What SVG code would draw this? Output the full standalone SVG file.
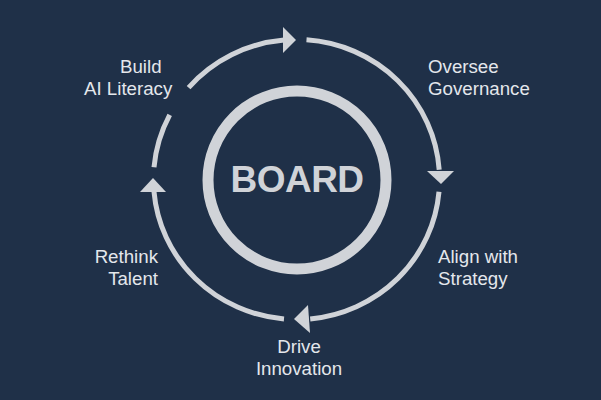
<svg xmlns="http://www.w3.org/2000/svg" width="601" height="400" viewBox="0 0 601 400">
<style>
.arc{fill:none;stroke:#d0d3d8;stroke-width:5;stroke-linecap:butt}
.head{fill:#d0d3d8}
.lbl{font-family:"Liberation Sans",Arial,sans-serif;font-size:18.7px;fill:#e4e7ec}
.title{font-family:"Liberation Sans",Arial,sans-serif;font-size:37px;font-weight:bold;fill:#d0d3d8;letter-spacing:-0.5px}
</style>
<rect width="601" height="400" fill="#1f3048"/>
<g id="board">
<circle cx="297" cy="180" r="89" fill="none" stroke="#d0d3d8" stroke-width="11"/>
<text class="title" x="297" y="192" text-anchor="middle">BOARD</text>
</g>
<g id="connectors">
<path class="arc" d="M188.6,87.6 A143,140 0 0 1 284,40"/>
<polygon class="head" points="296,40 283,27 283,53"/>
<path class="arc" d="M306.5,39.8 A143,140 0 0 1 439.2,169.7"/>
<polygon class="head" points="441,184 427,171 454,171"/>
<path class="arc" d="M439,191.7 A143,140 0 0 1 310.2,318.9"/>
<polygon class="head" points="294,319 308,305 310,333"/>
<path class="arc" d="M284,319 A143,140 0 0 1 154,191.7"/>
<polygon class="head" points="153,178 140,192 166,192"/>
<path class="arc" d="M154,167.3 A143,140 0 0 1 169.7,114.9"/>
</g>
<g id="build">
<text class="lbl" x="120" y="73">Build</text>
<text class="lbl" x="84" y="95">AI Literacy</text>
</g>
<g id="oversee">
<text class="lbl" x="428" y="73">Oversee</text>
<text class="lbl" x="428" y="95">Governance</text>
</g>
<g id="align">
<text class="lbl" x="438" y="263">Align with</text>
<text class="lbl" x="438" y="285">Strategy</text>
</g>
<g id="drive">
<text class="lbl" x="299" y="353" text-anchor="middle">Drive</text>
<text class="lbl" x="299" y="375" text-anchor="middle">Innovation</text>
</g>
<g id="rethink">
<text class="lbl" x="158" y="263" text-anchor="end">Rethink</text>
<text class="lbl" x="158" y="285" text-anchor="end">Talent</text>
</g>
</svg>
